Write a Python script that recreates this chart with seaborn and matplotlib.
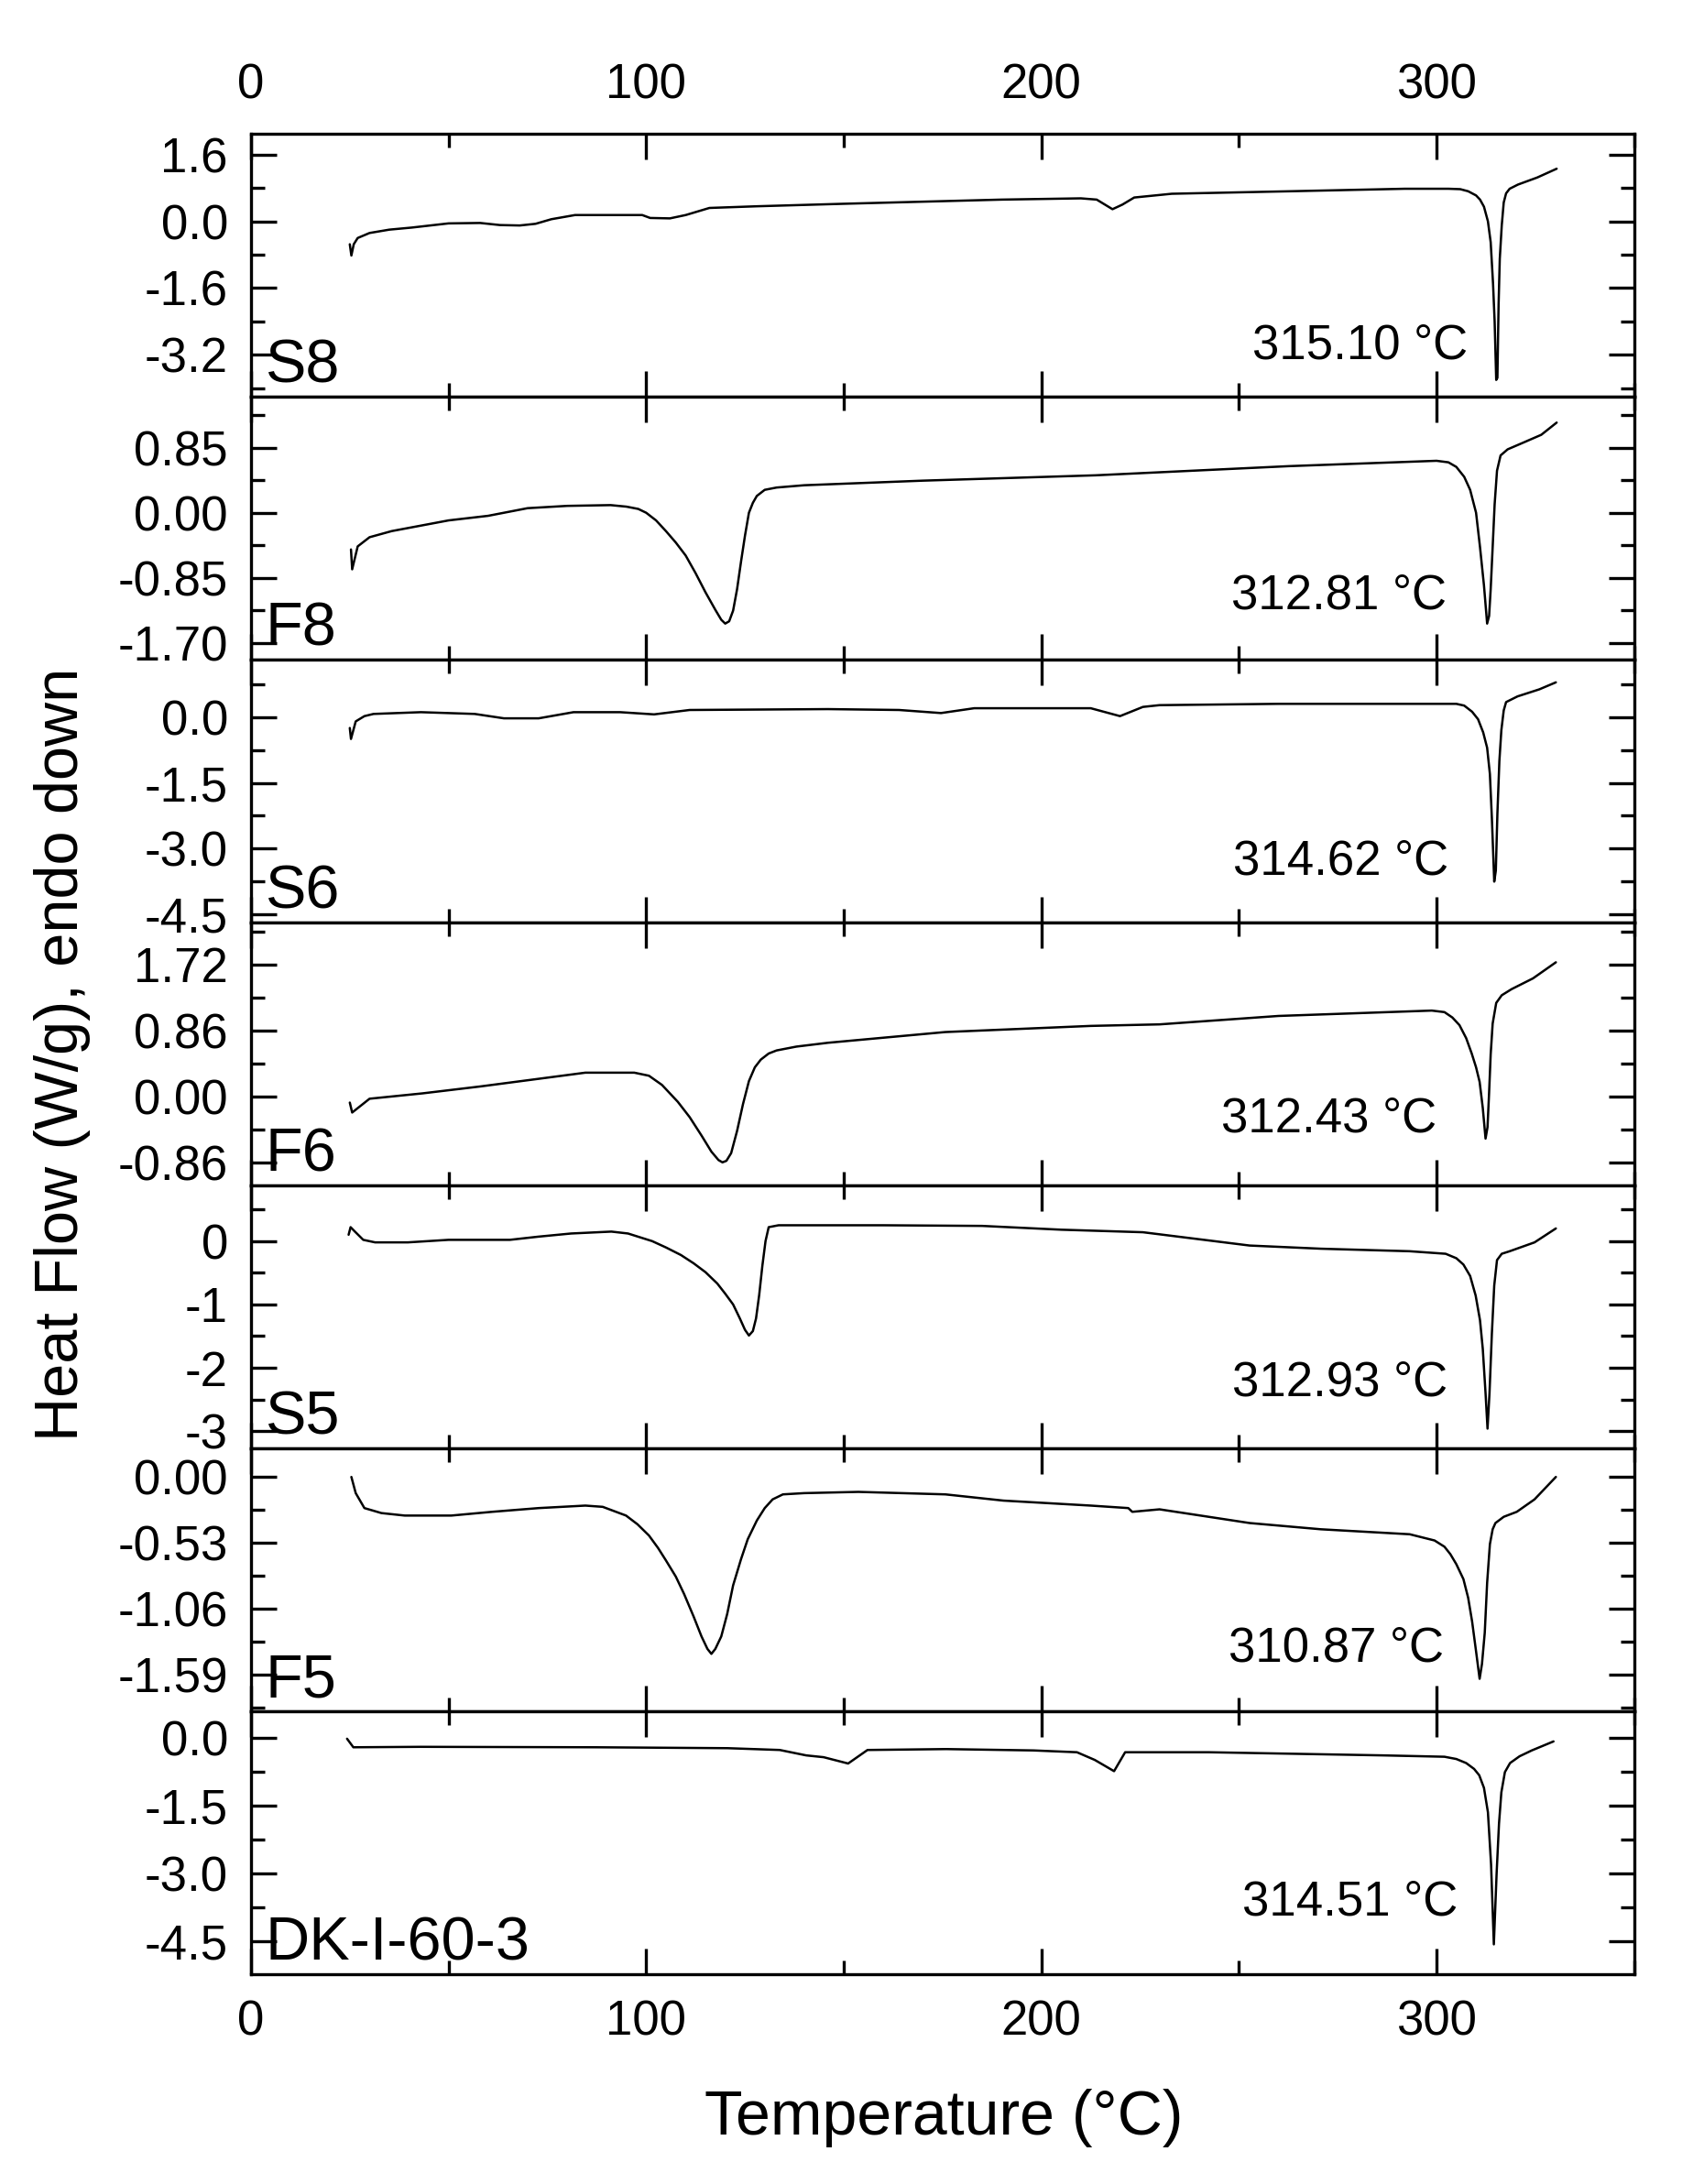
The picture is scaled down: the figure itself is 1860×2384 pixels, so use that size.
import matplotlib
matplotlib.use("Agg")
import matplotlib.pyplot as plt
from matplotlib.ticker import FixedLocator, AutoMinorLocator, MultipleLocator, FormatStrFormatter
import seaborn as sns

sns.set_theme(style="ticks")
plt.rcParams['font.family'] = ['Liberation Sans', 'DejaVu Sans']
plt.rcParams['axes.unicode_minus'] = False
plt.rcParams['text.color'] = 'black'

# DSC traces: temperature (°C) and heat flow (W/g)
s8_temp = [25.0, 25.4, 26.0, 27, 30, 35, 40.7, 50, 58, 63, 68, 72, 76, 82, 90, 99, 101, 106, 110, 116,
           128, 150, 170, 190, 210, 214, 218, 220.5, 223.5, 233, 263, 292, 303, 306, 308, 310, 311, 312,
           313, 313.7, 314.3, 314.7, 315.1, 315.4, 315.7, 316.0, 316.5, 317.0, 317.6, 318.5, 320.6, 325.5,
           330.4]
s8_flow = [-0.55, -0.82, -0.55, -0.40, -0.28, -0.20, -0.15, -0.05, -0.04, -0.09, -0.10, -0.06, 0.05, 0.15,
           0.15, 0.15, 0.08, 0.07, 0.15, 0.32, 0.36, 0.42, 0.47, 0.52, 0.55, 0.52, 0.29, 0.40, 0.57, 0.66,
           0.72, 0.78, 0.78, 0.77, 0.72, 0.62, 0.52, 0.35, 0.0, -0.5, -1.5, -2.4, -3.8, -3.75, -2.0, -0.9,
           -0.1, 0.45, 0.67, 0.78, 0.88, 1.05, 1.26]

f8_temp = [25.3, 25.6, 27, 30, 35.6, 50, 60, 70, 80, 91, 95, 98, 100, 102.5, 105, 107.5, 110, 112.5, 115,
           117.5, 119, 120, 121, 122, 123, 124, 125, 126, 127, 128, 130, 133, 140, 170, 213.7, 262.7, 300,
           303, 305, 307, 308.5, 310, 311, 312, 312.8, 313.3, 313.7, 314.2, 314.7, 315.3, 316.2, 318,
           321.6, 326.5, 330.4]
f8_flow = [-0.48, -0.74, -0.44, -0.32, -0.24, -0.10, -0.04, 0.06, 0.09, 0.10, 0.08, 0.05, 0.0, -0.10,
           -0.24, -0.39, -0.56, -0.79, -1.04, -1.27, -1.40, -1.45, -1.42, -1.28, -1.0, -0.64, -0.30, 0.0,
           0.13, 0.22, 0.30, 0.33, 0.36, 0.42, 0.49, 0.61, 0.68, 0.66, 0.60, 0.47, 0.30, 0.0, -0.45, -0.95,
           -1.45, -1.35, -1.0, -0.45, 0.11, 0.55, 0.75, 0.83, 0.91, 1.02, 1.18]

s6_temp = [25.0, 25.3, 26.5, 28.7, 31, 43, 56.6, 64, 72.8, 81.6, 93.4, 102, 111, 146, 164, 174.6, 183,
           212.5, 219.9, 225.7, 229.9, 260, 305, 307, 309, 310.5, 311.8, 312.8, 313.5, 314, 314.6, 315.0,
           315.4, 315.9, 316.4, 317, 317.6, 320.5, 326, 330.2]
s6_flow = [-0.25, -0.50, -0.10, 0.02, 0.07, 0.11, 0.07, -0.03, -0.03, 0.11, 0.11, 0.06, 0.16, 0.18, 0.16,
           0.09, 0.20, 0.20, 0.02, 0.23, 0.27, 0.30, 0.30, 0.26, 0.12, -0.05, -0.35, -0.70, -1.3, -2.3,
           -3.75, -3.5, -2.2, -1.0, -0.3, 0.15, 0.34, 0.47, 0.63, 0.79]

f6_temp = [25.0, 25.6, 30, 43.4, 58, 72.8, 84.6, 94.9, 97, 100.7, 104, 108, 111, 114, 116.5, 118.3, 119.3,
           120.3, 121.5, 123, 124.5, 126, 127.5, 129, 131, 133, 138, 146, 175.7, 212.5, 229.9, 260, 298.8,
           302, 304, 305.8, 307.5, 308.9, 310, 310.9, 311.7, 312.4, 312.9, 313.3, 313.7, 314.2, 315.1,
           316.5, 319, 324.4, 330.2]
f6_flow = [-0.08, -0.21, -0.03, 0.04, 0.13, 0.23, 0.31, 0.31, 0.31, 0.27, 0.15, -0.07, -0.27, -0.51, -0.72,
           -0.83, -0.86, -0.84, -0.74, -0.45, -0.10, 0.20, 0.38, 0.48, 0.56, 0.60, 0.65, 0.70, 0.84, 0.92,
           0.94, 1.05, 1.12, 1.10, 1.03, 0.93, 0.76, 0.56, 0.38, 0.19, -0.15, -0.55, -0.40, 0.05, 0.55,
           0.95, 1.22, 1.32, 1.40, 1.54, 1.75]

s5_temp = [24.7, 25.2, 26.3, 28.4, 31.4, 39.7, 50, 65.5, 72.7, 81, 91.2, 95.4, 101.5, 105, 108.8, 112, 115,
           118, 120, 122, 123.7, 125, 126, 127, 127.8, 128.6, 129.4, 130.2, 131, 133.5, 160, 185, 205,
           225.7, 252.7, 270.7, 293.2, 302.3, 305, 306.8, 308.5, 309.9, 311, 311.7, 312.4, 312.9, 313.4,
           314, 314.6, 315.3, 316.5, 318.5, 324.8, 330.2]
s5_flow = [0.10, 0.22, 0.15, 0.02, -0.02, -0.02, 0.02, 0.02, 0.07, 0.12, 0.15, 0.12, 0.0, -0.10, -0.22,
           -0.35, -0.49, -0.67, -0.83, -1.0, -1.22, -1.40, -1.49, -1.42, -1.22, -0.85, -0.39, 0.0, 0.22,
           0.25, 0.25, 0.24, 0.18, 0.14, -0.07, -0.12, -0.16, -0.20, -0.27, -0.37, -0.55, -0.86, -1.25,
           -1.70, -2.4, -2.96, -2.4, -1.46, -0.70, -0.30, -0.20, -0.16, -0.02, 0.20]

f5_temp = [25.4, 26.5, 28.7, 33, 38.9, 50.7, 61, 72.8, 84.6, 89, 94.9, 97.8, 100.7, 103, 105, 107.5, 109.6,
           112, 114, 115.5, 116.5, 117.5, 119, 120.5, 122, 124, 125.7, 128, 130, 132, 134.6, 140, 153.7,
           175.7, 190.4, 212.5, 222, 223, 229.9, 252.7, 270.7, 293.2, 299.5, 302, 303.5, 305, 306.8, 308,
           309, 310, 310.9, 311.5, 312.2, 312.8, 313.5, 314.2, 314.9, 317, 320.3, 324.8, 330.2]
f5_flow = [0.0, -0.13, -0.25, -0.29, -0.31, -0.31, -0.28, -0.25, -0.23, -0.24, -0.31, -0.38, -0.47, -0.57,
           -0.67, -0.80, -0.94, -1.12, -1.28, -1.38, -1.42, -1.38, -1.28, -1.10, -0.87, -0.66, -0.50,
           -0.35, -0.25, -0.18, -0.14, -0.13, -0.12, -0.14, -0.19, -0.23, -0.25, -0.28, -0.26, -0.37,
           -0.42, -0.46, -0.51, -0.56, -0.62, -0.70, -0.82, -0.97, -1.16, -1.40, -1.62, -1.50, -1.25,
           -0.85, -0.54, -0.42, -0.37, -0.32, -0.28, -0.18, 0.0]

dk_temp = [24.3, 25.9, 43, 87.4, 120.6, 133.8, 140.5, 144.9, 151.1, 156, 175.9, 198, 209, 213.5, 218.4,
           221.2, 242.3, 286.5, 302, 305, 307.5, 309.5, 310.8, 312, 313, 313.8, 314.5, 315.2, 315.8, 316.4,
           317.3, 318.6, 321, 324.1, 329.6]
dk_flow = [-0.01, -0.20, -0.19, -0.20, -0.22, -0.26, -0.38, -0.42, -0.56, -0.26, -0.24, -0.27, -0.31,
           -0.48, -0.73, -0.31, -0.31, -0.38, -0.41, -0.46, -0.55, -0.68, -0.82, -1.10, -1.64, -2.8, -4.57,
           -3.0, -1.9, -1.2, -0.75, -0.55, -0.40, -0.27, -0.07]

sample_names = ["S8", "F8", "S6", "F6", "S5", "F5", "DK-I-60-3"]
peak_labels = ["315.10 °C", "312.81 °C", "314.62 °C", "312.43 °C", "312.93 °C", "310.87 °C", "314.51 °C"]
y_ticks = [[-3.2, -1.6, 0.0, 1.6], [-1.70, -0.85, 0.0, 0.85], [-4.5, -3.0, -1.5, 0.0],
           [-0.86, 0.0, 0.86, 1.72], [-3, -2, -1, 0], [-1.59, -1.06, -0.53, 0.0], [-4.5, -3.0, -1.5, 0.0]]

temps = [s8_temp, f8_temp, s6_temp, f6_temp, s5_temp, f5_temp, dk_temp]
flows = [s8_flow, f8_flow, s6_flow, f6_flow, s5_flow, f5_flow, dk_flow]

# layout / style per panel
y_limits = [(-4.2, 2.1), (-1.92, 1.52), (-4.68, 1.31), (-1.16, 2.27), (-3.27, 0.88), (-1.88, 0.23), (-5.23, 0.6)]
y_formats = ["%.1f", "%.2f", "%.1f", "%.2f", "%d", "%.2f", "%.1f"]
peak_text_x = [307.8, 302.5, 303.1, 300.0, 302.7, 301.8, 305.3]
peak_text_y = [0.144, 0.194, 0.184, 0.204, 0.200, 0.190, 0.224]

fig, axes = plt.subplots(7, 1, figsize=(18.6, 23.84), dpi=100, sharex=True)
fig.subplots_adjust(left=0.1473, right=0.959, top=0.9388, bottom=0.0961, hspace=0)

for i, ax in enumerate(axes):
    sns.lineplot(x=temps[i], y=flows[i], ax=ax, color="black", linewidth=1.8,
                 sort=False, estimator=None)
    ax.set_facecolor("white")
    ax.set_xlim(0, 350)
    ax.set_ylim(*y_limits[i])
    ax.xaxis.set_major_locator(MultipleLocator(100))
    ax.xaxis.set_minor_locator(MultipleLocator(50))
    ax.yaxis.set_major_locator(FixedLocator(y_ticks[i]))
    ax.yaxis.set_minor_locator(AutoMinorLocator(2))
    ax.yaxis.set_major_formatter(FormatStrFormatter(y_formats[i]))
    for sp in ax.spines.values():
        sp.set_linewidth(2.4)
        sp.set_color("black")
    ax.tick_params(which="major", direction="in", length=20, width=2.4, top=True, right=True,
                   labelsize=38, colors="black")
    ax.tick_params(which="minor", direction="in", length=11, width=2.4, top=True, right=True,
                   colors="black")
    ax.tick_params(axis="x", pad=20, labelbottom=(i == 6), labeltop=(i == 0))
    ax.tick_params(axis="y", pad=18)
    ax.set_xlabel("")
    ax.set_ylabel("")

    ax.text(0.01, 0.055, sample_names[i], transform=ax.transAxes, fontsize=48,
            ha="left", va="baseline", color="black")
    ax.text(peak_text_x[i], peak_text_y[i], peak_labels[i], transform=ax.get_xaxis_transform(),
            fontsize=38, ha="right", va="baseline", color="black")

fig.text(0.0366, 0.5172, "Heat Flow (W/g), endo down", rotation=90, ha="center", va="center",
         fontsize=48, color="black")
fig.text(0.5538, 0.0302, "Temperature (°C)", ha="center", va="center", fontsize=49, color="black")

fig.savefig("out.png", dpi=100)
